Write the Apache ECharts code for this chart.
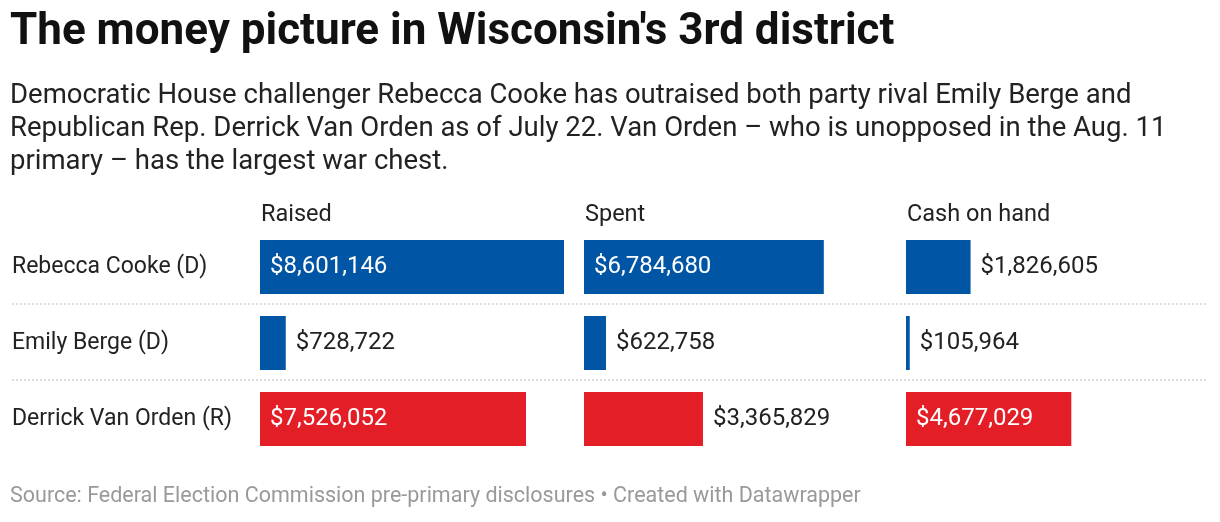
<!DOCTYPE html>
<html lang="en">
<head>
<meta charset="UTF-8"/>
<title>Wisconsin 3rd district money</title>
<script src="https://cdn.jsdelivr.net/npm/echarts@6/dist/echarts.min.js"></script>
<style>body{margin:0;background:#fff}#main{width:1220px;height:522px}</style>
</head>
<body>
<div id="main"></div>
<script type="text/javascript">
var candidates = ['Rebecca Cooke (D)', 'Emily Berge (D)', 'Derrick Van Orden (R)'];
var columns = ['Raised', 'Spent', 'Cash on hand'];
var raised = [8601146, 728722, 7526052];
var spent = [6784680, 622758, 3365829];
var cash = [1826605, 105964, 4677029];
var party = ['D', 'D', 'R'];

var myChart = echarts.init(document.getElementById('main'));
var lefts = [260, 584, 906];
var allData = [raised, spent, cash];
var maxVal = 8601146;

function fmt(v) { return '$' + v.toLocaleString('en-US'); }

var grids = [], xAxes = [], yAxes = [], series = [];
allData.forEach(function (vals, g) {
    grids.push({left: lefts[g], top: 229, width: 304, height: 228});
    xAxes.push({type: 'value', gridIndex: g, min: 0, max: maxVal, show: false});
    yAxes.push({
        type: 'category', gridIndex: g, data: candidates, inverse: true,
        axisLine: {show: false}, axisTick: {show: false},
        axisLabel: g === 0 ? {show: true, align: 'left', margin: 248, fontSize: 23, color: '#222', fontFamily: 'Roboto'} : {show: false}
    });
    series.push({
        type: 'bar', xAxisIndex: g, yAxisIndex: g, barWidth: 54,
        data: vals.map(function (v, i) {
            var inside = v / maxVal * 304 > 140;
            return {
                value: v,
                itemStyle: {color: party[i] === 'D' ? '#0055a5' : '#e41e26'},
                label: {
                    show: true, position: inside ? 'insideLeft' : 'right',
                    distance: 10,
                    color: inside ? '#fff' : '#222', fontSize: 24, fontFamily: 'Roboto',
                    formatter: function (p) { return fmt(p.value); }
                }
            };
        })
    });
});

var graphics = [
    {type: 'text', left: 10, top: 11, style: {text: "The money picture in Wisconsin's 3rd district", font: 'bold 44px Roboto', fill: '#111'}},
    {type: 'text', left: 10, top: 80, style: {text: 'Democratic House challenger Rebecca Cooke has outraised both party rival Emily Berge and\nRepublican Rep. Derrick Van Orden as of July 22. Van Orden – who is unopposed in the Aug. 11\nprimary – has the largest war chest.', font: '27.5px Roboto', fill: '#222', lineHeight: 33}},
    {type: 'text', left: 10, top: 486, style: {text: 'Source: Federal Election Commission pre-primary disclosures • Created with Datawrapper', font: '21.5px Roboto', fill: '#999'}},
    {type: 'line', shape: {x1: 12, y1: 304, x2: 1208, y2: 304}, style: {stroke: '#bbb', lineWidth: 1, lineDash: [2, 2]}},
    {type: 'line', shape: {x1: 12, y1: 380, x2: 1208, y2: 380}, style: {stroke: '#bbb', lineWidth: 1, lineDash: [2, 2]}}
];
columns.forEach(function (c, g) {
    graphics.push({type: 'text', left: lefts[g] + 1, top: 203, style: {text: c, font: '23.5px Roboto', fill: '#222'}});
});

var option = {
    animation: false,
    graphic: graphics,
    grid: grids,
    xAxis: xAxes,
    yAxis: yAxes,
    series: series
};
myChart.setOption(option);
</script>
</body>
</html>
